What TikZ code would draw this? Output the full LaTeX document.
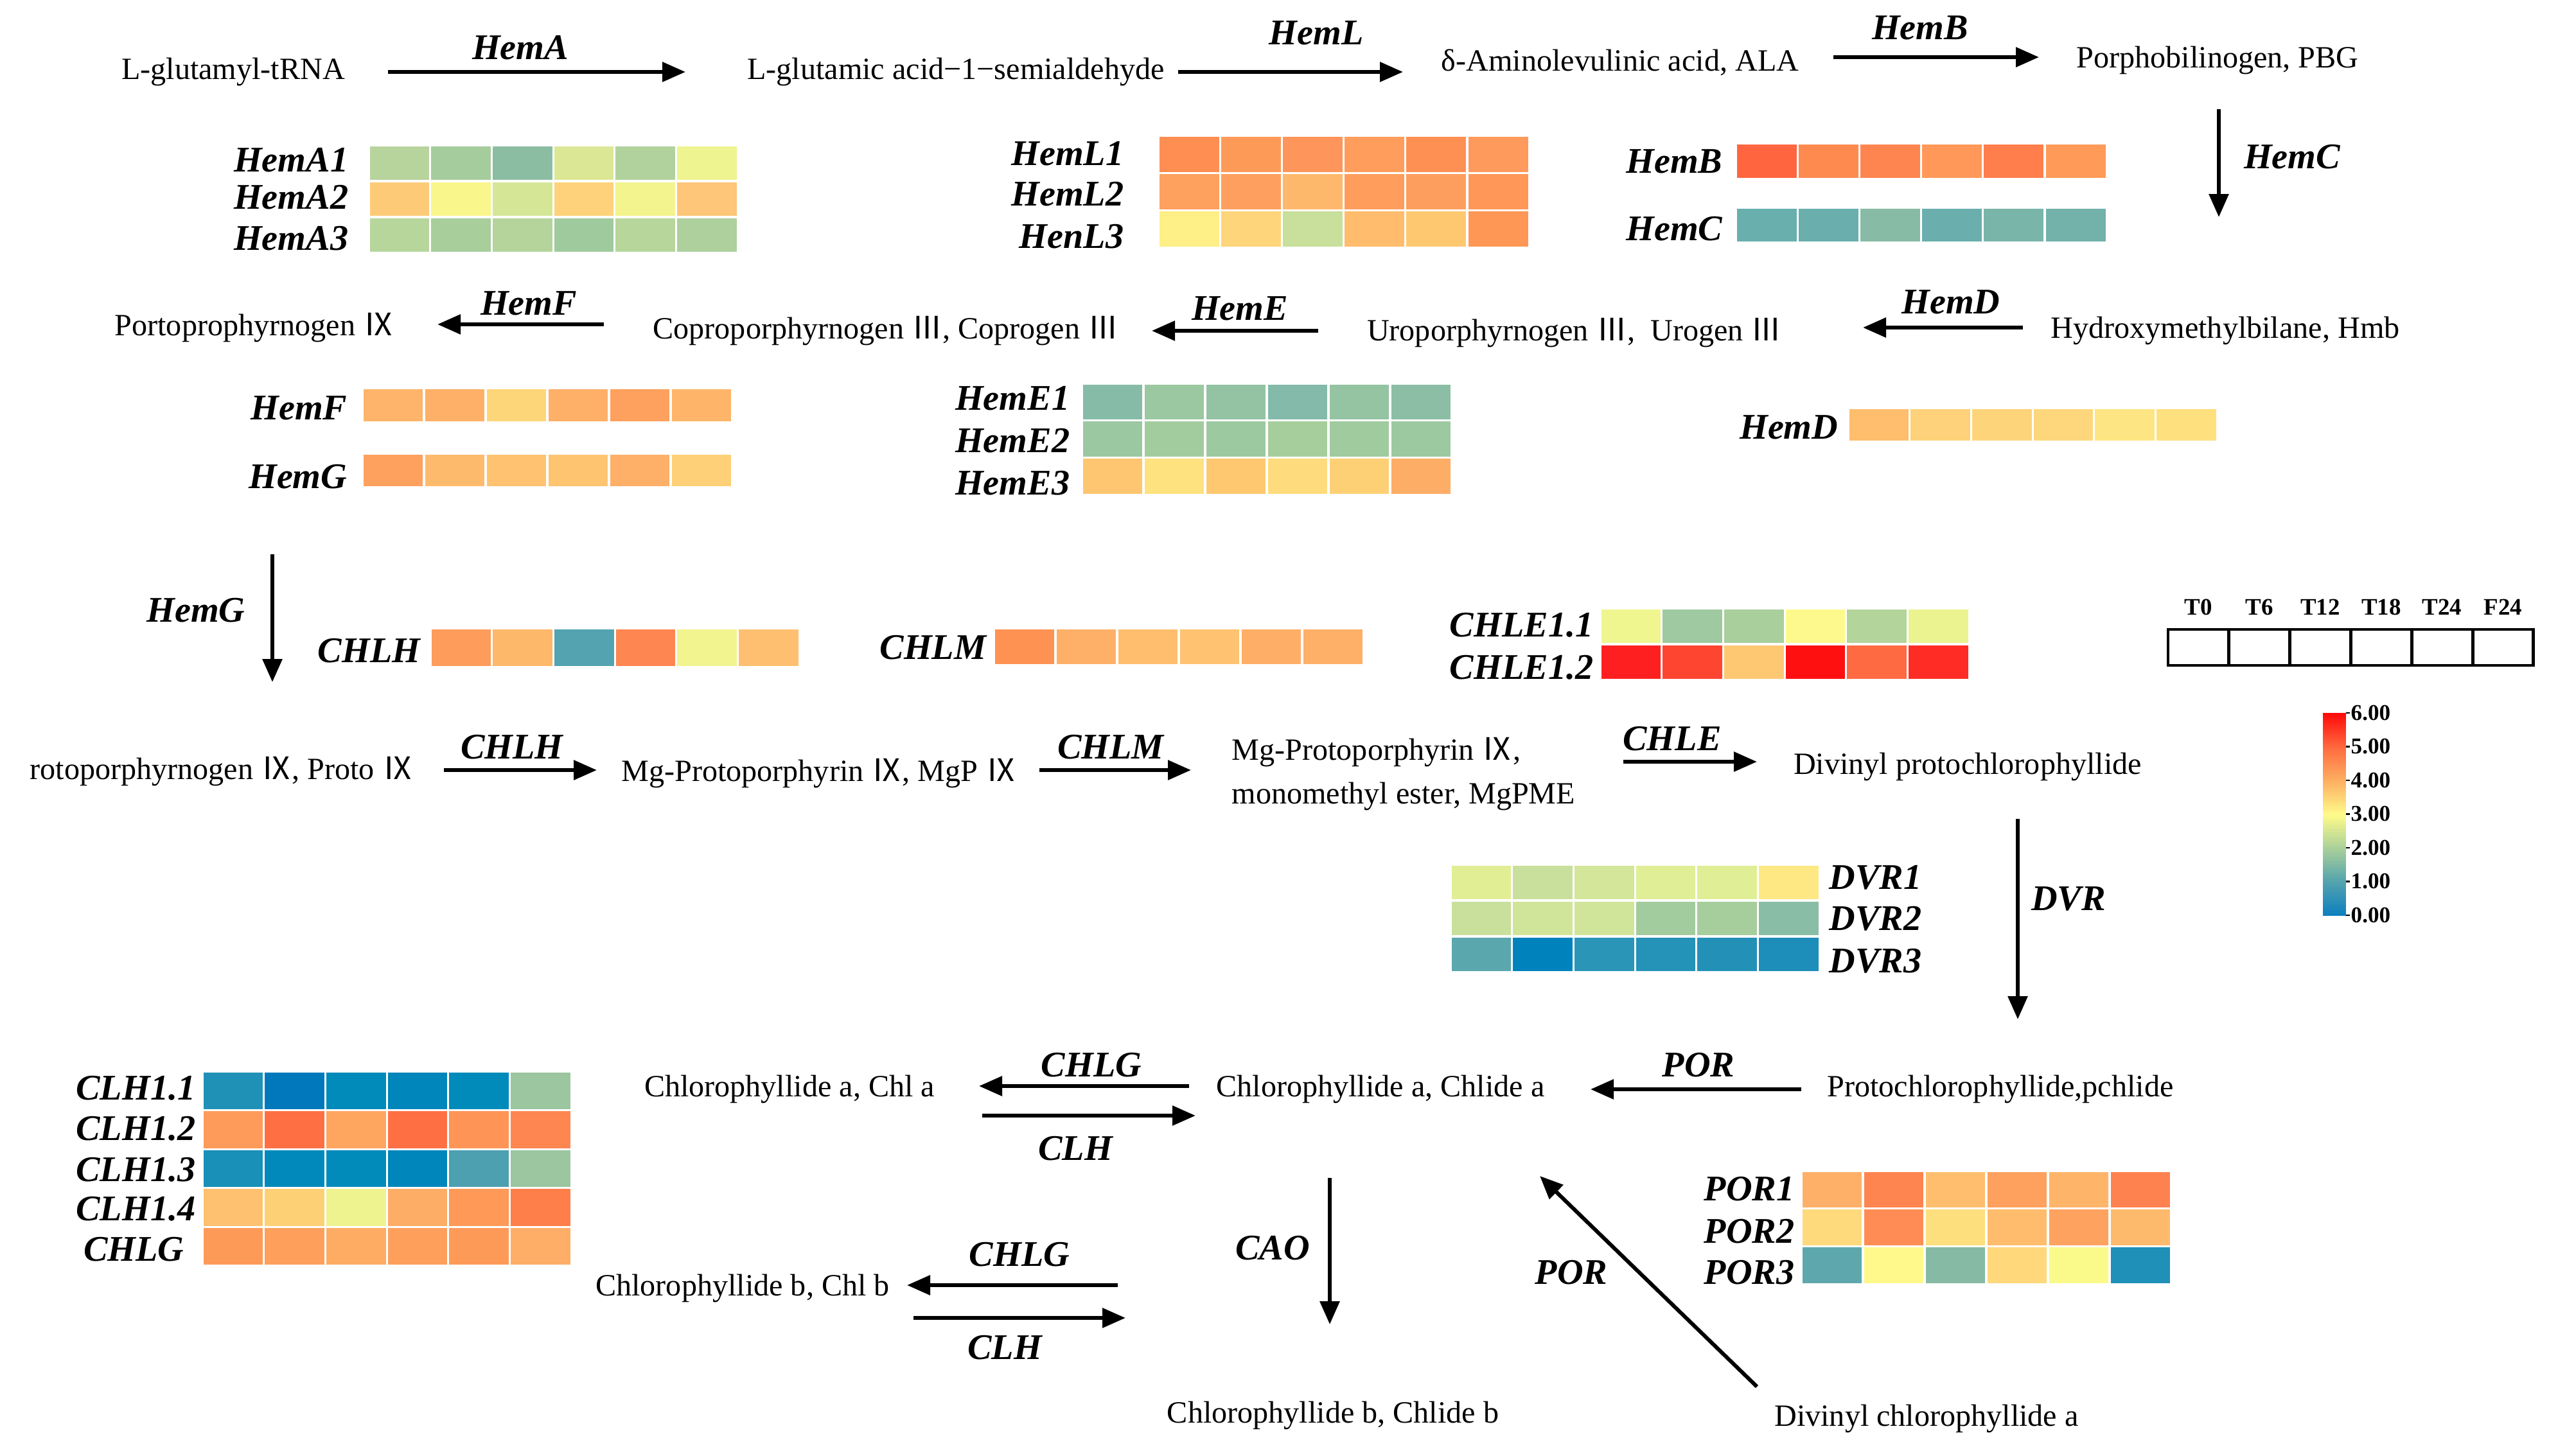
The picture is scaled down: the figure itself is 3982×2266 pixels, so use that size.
\documentclass[tikz,border=0pt]{standalone}
\usepackage{fontspec}
\setmainfont{Liberation Serif}
\newfontfamily\cjkf{Noto Sans CJK SC}
\usetikzlibrary{arrows.meta}
\newcommand\rn[1]{{\cjkf #1}}
% heatmap row: x0, y0, cell width, cell height, list of HTML colours
\newcommand\hmrow[5]{%
  \foreach \c [count=\i from 0] in {#5} {%
    \definecolor{hmc}{HTML}{\c}%
    \path[fill=hmc,draw=white,line width=0.9pt] ({#1+\i*#3},#2) rectangle ++(#3,#4);}}
\definecolor{cb0}{HTML}{0A7FC0}
\definecolor{cb1}{HTML}{52A2AE}
\definecolor{cb2}{HTML}{A8CF9A}
\definecolor{cb3}{HTML}{FFFB8A}
\definecolor{cb4}{HTML}{FDB062}
\definecolor{cb5}{HTML}{FF6A3E}
\definecolor{cb6}{HTML}{FF0A0A}
\tikzset{
  txt/.style={font=\fontsize{13.7}{19.3}\selectfont, inner sep=0pt},
  gene/.style={font=\fontsize{16}{18}\selectfont\bfseries\itshape, inner sep=0pt},
  enz/.style={font=\fontsize{16}{18}\selectfont\bfseries\itshape, inner sep=0pt},
  rxn/.style={line width=1.7pt, -{Triangle[length=0.36cm,width=0.3cm]}},
  legtxt/.style={font=\fontsize{10.5}{12}\selectfont\bfseries, inner sep=0pt},
  cbtxt/.style={font=\fontsize{10}{12}\selectfont\bfseries, inner sep=0pt, anchor=west},
}
\begin{document}
\begin{tikzpicture}[x=0.1mm,y=-0.1mm]
\useasboundingbox[fill=white] (0,0) rectangle (3982,2266);

% ---------------- metabolites ----------------
\node[txt] (tRNA) at (363,112) {L-glutamyl-tRNA};
\node[txt] (GSA) at (1488,112) {L-glutamic acid−1−semialdehyde};
\node[txt] (ALA) at (2522,97) {δ-Aminolevulinic acid, ALA};
\node[txt] (PBG) at (3452,94) {Porphobilinogen, PBG};
\node[txt] (Portop) at (396,510) {Portoprophyrnogen \rn{Ⅸ}};
\node[txt] (Copro) at (1379,515) {Coproporphyrnogen \rn{Ⅲ}, Coprogen \rn{Ⅲ}};
\node[txt] (Uro) at (2451,518) {Uroporphyrnogen \rn{Ⅲ},\ \ Urogen \rn{Ⅲ}};
\node[txt] (Hmb) at (3464,515) {Hydroxymethylbilane, Hmb};
\node[txt,anchor=west] (ProtoIX) at (46,1201) {rotoporphyrnogen \rn{Ⅸ}, Proto \rn{Ⅸ}};
\node[txt] (MgP) at (1275,1204) {Mg-Protoporphyrin \rn{Ⅸ}, MgP \rn{Ⅸ}};
\node[txt,anchor=west,align=left] (MgPME) at (1917,1205) {Mg-Protoporphyrin \rn{Ⅸ},\\monomethyl ester, MgPME};
\node[txt] (DVP) at (3063,1194) {Divinyl protochlorophyllide};
\node[txt] (Pchl) at (3114,1696) {Protochlorophyllide,pchlide};
\node[txt] (Chlidea) at (2149,1696) {Chlorophyllide a, Chlide a};
\node[txt] (Chla) at (1229,1696) {Chlorophyllide a, Chl a};
\node[txt] (Chlb) at (1156,2006) {Chlorophyllide b, Chl b};
\node[txt] (Chlideb) at (2075,2204) {Chlorophyllide b, Chlide b};
\node[txt] (DVChl) at (2999,2209) {Divinyl chlorophyllide a};

% ---------------- reaction arrows ----------------
\coordinate (hemAs) at (604,112);  \coordinate (hemAe) at (1067,112);
\coordinate (hemLs) at (1834,112); \coordinate (hemLe) at (2184,112);
\coordinate (hemBs) at (2854,89);  \coordinate (hemBe) at (3174,89);
\coordinate (hemCs) at (3454,170); \coordinate (hemCe) at (3454,338);
\coordinate (hemDs) at (3149,510); \coordinate (hemDe) at (2900,510);
\coordinate (hemEs) at (2052,515); \coordinate (hemEe) at (1793,515);
\coordinate (hemFs) at (940,505);  \coordinate (hemFe) at (681,505);
\coordinate (hemGs) at (424,863);  \coordinate (hemGe) at (424,1062);
\coordinate (chlHs) at (691,1199); \coordinate (chlHe) at (929,1199);
\coordinate (chlMs) at (1618,1199);\coordinate (chlMe) at (1854,1199);
\coordinate (chlEs) at (2527,1186);\coordinate (chlEe) at (2735,1186);
\coordinate (dvrs) at (3141,1275); \coordinate (dvre) at (3141,1587);
\coordinate (poras) at (2804,1696);\coordinate (porae) at (2476,1696);
\coordinate (chlgas) at (1851,1691);\coordinate (chlgae) at (1524,1691);
\coordinate (clhas) at (1529,1737);\coordinate (clhae) at (1861,1737);
\coordinate (caos) at (2070,1834); \coordinate (caoe) at (2070,2062);
\coordinate (porbs) at (2735,2159);\coordinate (porbe) at (2397,1831);
\coordinate (chlgbs) at (1740,2001);\coordinate (chlgbe) at (1412,2001);
\coordinate (clhbs) at (1422,2052);\coordinate (clhbe) at (1752,2052);

\foreach \a in {hemA,hemL,hemB,hemC,hemD,hemE,hemF,hemG,chlH,chlM,chlE,dvr,pora,chlga,clha,cao,porb,chlgb,clhb}
  {\draw[rxn] (\a s) -- (\a e);}

\node[enz] (eHemA) at (810,74) {HemA};
\node[enz] (eHemL) at (2049,51) {HemL};
\node[enz] (eHemB) at (2989,43) {HemB};
\node[enz] (eHemC) at (3568,244) {HemC};
\node[enz] (eHemD) at (3037,470) {HemD};
\node[enz] (eHemE) at (1930,480) {HemE};
\node[enz] (eHemF) at (823,472) {HemF};
\node[enz] (eHemG) at (305,950) {HemG};
\node[enz] (eCHLH) at (797,1163) {CHLH};
\node[enz] (eCHLM) at (1729,1163) {CHLM};
\node[enz] (eCHLE) at (2603,1150) {CHLE};
\node[enz] (eDVR) at (3220,1399) {DVR};
\node[enz] (ePORa) at (2644,1658) {POR};
\node[enz] (eCHLGa) at (1699,1658) {CHLG};
\node[enz] (eCLHa) at (1674,1788) {CLH};
\node[enz] (eCAO) at (1981,1943) {CAO};
\node[enz] (ePORb) at (2446,1981) {POR};
\node[enz] (eCHLGb) at (1587,1953) {CHLG};
\node[enz] (eCLHb) at (1564,2098) {CLH};

% ---------------- heatmaps ----------------
% HemA
\hmrow{574}{226}{95.7}{56}{B7D49C,A5CC9D,8BBDA2,DCE796,B2D29D,EEF48F}
\hmrow{574}{282}{95.7}{56}{FDCB78,F9F68C,D6E697,FDD27A,F3F48D,FDC678}
\hmrow{574}{338}{95.7}{56}{B7D69B,A7CE9B,B4D49B,9FCA9D,B7D69B,ADD09C}
\node[gene,anchor=east] (gHemA1) at (543,249) {HemA1};
\node[gene,anchor=east] (gHemA2) at (543,307) {HemA2};
\node[gene,anchor=east] (gHemA3) at (543,371) {HemA3};
% HemL
\hmrow{1803}{211}{96.2}{58.3}{FE8E52,FE9A58,FE955A,FE9D5C,FE9054,FE9B5C}
\hmrow{1803}{269.3}{96.2}{58.3}{FEA05E,FE9F5F,FEB86B,FE9D5C,FE9E5E,FE9758}
\hmrow{1803}{327.6}{96.2}{58.3}{FEEF86,FED57A,C8E09C,FEBC6C,FEC870,FE9756}
\node[gene,anchor=east] (gHemL1) at (1750,239) {HemL1};
\node[gene,anchor=east] (gHemL2) at (1750,302) {HemL2};
\node[gene,anchor=east] (gHenL3) at (1750,368) {HenL3};
% HemB / HemC
\hmrow{2702}{223}{96.2}{56}{FF6640,FF8A50,FF8550,FF9858,FF7E4C,FF9A58}
\hmrow{2702}{323}{96.2}{55}{68AFAE,6AAFAD,88BBA5,6AAFAD,79B5A9,72B2AB}
\node[gene,anchor=east] (gHemB) at (2682,251) {HemB};
\node[gene,anchor=east] (gHemC) at (2682,356) {HemC};
% HemF / HemG
\hmrow{564}{604}{96}{54}{FEB46A,FEB068,FED67A,FEAF68,FEA15E,FEB56A}
\hmrow{564}{706}{96}{53}{FEA15E,FEBA6C,FEC270,FEC470,FEB068,FED077}
\node[gene,anchor=east] (gHemF) at (541,635) {HemF};
\node[gene,anchor=east] (gHemG) at (541,742) {HemG};
% HemE
\hmrow{1684}{597}{96}{57.7}{86BCA7,9BC8A0,93C3A2,84BAA9,94C4A1,8BBEA5}
\hmrow{1684}{654.7}{96}{57.7}{9BC8A0,A3CC9E,9DC9A0,A6CE9C,A0CB9E,9DC9A0}
\hmrow{1684}{712.4}{96}{57.7}{FEC670,FEE27F,FEC871,FEDB7C,FED076,FEAD66}
\node[gene,anchor=east] (gHemE1) at (1666,620) {HemE1};
\node[gene,anchor=east] (gHemE2) at (1666,686) {HemE2};
\node[gene,anchor=east] (gHemE3) at (1666,752) {HemE3};
% HemD
\hmrow{2877}{635}{95.7}{53}{FEBE6E,FED27A,FED47B,FED77C,FEE583,FEE07F}
\node[gene,anchor=east] (gHemD) at (2862,665) {HemD};
% CHLH / CHLM
\hmrow{670}{978}{95.7}{61}{FE9C5C,FEB86A,53A3B0,FE8650,F1F48F,FEC070}
\node[gene,anchor=east] (gCHLH) at (655,1013) {CHLH};
\hmrow{1547}{978}{96}{58}{FE9252,FEB068,FEBE6D,FEC270,FEAE66,FEB068}
\node[gene,anchor=east] (gCHLM) at (1536,1008) {CHLM};
% CHLE
\hmrow{2491}{947}{95.7}{56}{EFF58F,9FC9A0,A9CF9D,FEF98C,B3D49B,EAF390}
\hmrow{2491}{1003}{95.7}{56}{FE2020,FE4530,FEC873,FE1010,FE6A42,FE2C24}
\node[gene,anchor=east] (gCHLE11) at (2481,973) {CHLE1.1};
\node[gene,anchor=east] (gCHLE12) at (2481,1039) {CHLE1.2};
% DVR
\hmrow{2258}{1346}{95.7}{56}{E2EE94,C8E09C,D3E699,E0EE95,E0EE95,FEE883}
\hmrow{2258}{1402}{95.7}{56}{C8E09C,D1E59A,D1E59A,A3CC9E,A6CE9D,89BDA6}
\hmrow{2258}{1458}{95.7}{56}{5AA7AE,0083BD,2B95B7,2592B7,2390B8,1D8DB9}
\node[gene,anchor=west] (gDVR1) at (2847,1366) {DVR1};
\node[gene,anchor=west] (gDVR2) at (2847,1430) {DVR2};
\node[gene,anchor=west] (gDVR3) at (2847,1496) {DVR3};
% CLH / CHLG
\hmrow{315}{1668}{95.7}{60.6}{2091B6,0078BB,008BBA,0086BA,008BBA,9BC6A0}
\hmrow{315}{1728.6}{95.7}{60.6}{FE9B5A,FE7044,FEA660,FE7044,FE9556,FE8650}
\hmrow{315}{1789.2}{95.7}{60.6}{1890B7,0089BA,008BBA,0086BA,4DA0B0,9BC6A0}
\hmrow{315}{1849.8}{95.7}{60.6}{FEC170,FED076,EEF38F,FEAD66,FE9958,FE7F4A}
\hmrow{315}{1910.4}{95.7}{60.6}{FE9A58,FEA05C,FEAC64,FEA05C,FE9A58,FEAE66}
\node[gene,anchor=east] (gCLH11) at (305,1694) {CLH1.1};
\node[gene,anchor=east] (gCLH12) at (305,1757) {CLH1.2};
\node[gene,anchor=east] (gCLH13) at (305,1821) {CLH1.3};
\node[gene,anchor=east] (gCLH14) at (305,1882) {CLH1.4};
\node[gene,anchor=east] (gCHLG) at (287,1945) {CHLG};
% POR
\hmrow{2804}{1823}{96}{58.7}{FEB068,FE8450,FEBE6E,FEA05E,FEB56A,FE8250}
\hmrow{2804}{1881.7}{96}{58.7}{FEDA7C,FE8C54,FEDF7E,FEBC6C,FEA260,FEBA6C}
\hmrow{2804}{1940.4}{96}{58.7}{5EA8AD,FEF98A,86BAA4,FED87B,FAFA8A,1F90B8}
\node[gene,anchor=east] (gPOR1) at (2794,1851) {POR1};
\node[gene,anchor=east] (gPOR2) at (2794,1917) {POR2};
\node[gene,anchor=east] (gPOR3) at (2794,1981) {POR3};

% ---------------- legend ----------------
\foreach \t [count=\i from 0] in {T0,T6,T12,T18,T24,F24}
  {\node[legtxt] (leg\t) at ({3422.4+\i*94.8},945) {\t};
   \draw[line width=1.4pt] ({3375+\i*94.8},980) rectangle ++(94.8,56);}
% colour bar built from thin bands (top = 6.00, bottom = 0.00)
\foreach \s/\ctop/\cbot in {0/cb6/cb5,1/cb5/cb4,2/cb4/cb3,3/cb3/cb2,4/cb2/cb1,5/cb1/cb0}
  {\foreach \k in {0,...,14}
    {\pgfmathtruncatemacro\p{100-\k*100/15}
     \fill[\ctop!\p!\cbot] (3616,{1110+\s*52.5+\k*3.5}) rectangle (3652,{1110+\s*52.5+\k*3.5+4.2});}}
\foreach \v [count=\i from 0] in {6.00,5.00,4.00,3.00,2.00,1.00,0.00}
  {\draw[line width=0.6pt] (3652,{1110+\i*52.5}) -- ++(6,0);
   \node[cbtxt] (cb\i) at (3659,{1110+\i*52.5}) {\v};}
\end{tikzpicture}
\end{document}
